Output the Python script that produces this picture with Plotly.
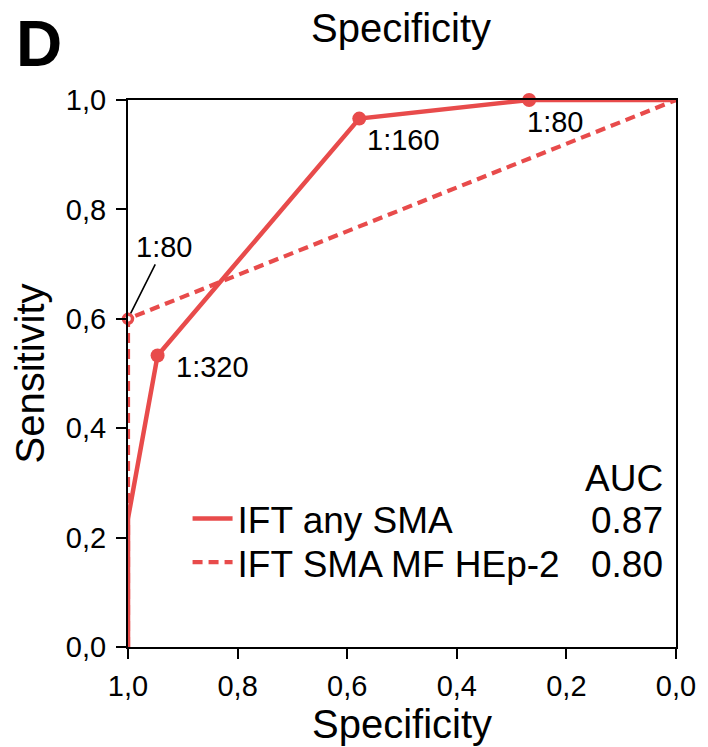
import plotly.graph_objects as go

RED = "#E84B4B"
FONT = "Liberation Sans, Arial, sans-serif"

# Data
any_sma_spec = [1.0, 1.0, 0.946, 0.578, 0.268, 0.0]
any_sma_sens = [0.0, 0.235, 0.533, 0.966, 1.0, 1.0]
cut_spec = [0.946, 0.578, 0.268]
cut_sens = [0.533, 0.966, 1.0]
cut_labels = ["1:320", "1:160", "1:80"]

mf_spec = [1.0, 1.0, 0.0]
mf_sens = [0.0, 0.6, 1.0]
mf_cut_spec = [1.0]
mf_cut_sens = [0.6]
mf_cut_labels = ["1:80"]

series_names = ["IFT any SMA", "IFT SMA MF HEp-2"]
auc_values = ["0.87", "0.80"]

tick_vals = [0.0, 0.2, 0.4, 0.6, 0.8, 1.0]
tick_text = ["0,0", "0,2", "0,4", "0,6", "0,8", "1,0"]

# plot area on screen: x 128..680, y 100..650 (page body margin removed)
PW, PH = 552, 550


def px(xs):
    return (xs - 128) / PW


def py(ys):
    return (650 - ys) / PH


fig = go.Figure()
fig.add_trace(go.Scatter(x=any_sma_spec, y=any_sma_sens, mode="lines",
                         line=dict(color=RED, width=4.5), name=series_names[0], cliponaxis=False,
                         legend="legend"))
fig.add_trace(go.Scatter(x=mf_spec, y=mf_sens, mode="lines",
                         line=dict(color=RED, width=4.2, dash="10px,6px"), name=series_names[1],
                         cliponaxis=False, legend="legend2"))
fig.add_trace(go.Scatter(x=cut_spec, y=cut_sens, mode="markers", showlegend=False,
                         marker=dict(color=RED, size=14), cliponaxis=False))
fig.add_trace(go.Scatter(x=mf_cut_spec, y=mf_cut_sens, mode="markers", showlegend=False,
                         marker=dict(color="white", size=9, line=dict(color=RED, width=3.5)),
                         cliponaxis=False))

ann_font = dict(family=FONT, size=29, color="black")
shifts = [(16, -12), (6, -21), (-4, -22)]
for xv, yv, lab, (dx, dy) in zip(cut_spec, cut_sens, cut_labels, shifts):
    fig.add_annotation(x=xv, y=yv, text=lab, showarrow=False, xanchor="left", yanchor="middle",
                       xshift=dx, yshift=dy, font=ann_font)
fig.add_annotation(x=mf_cut_spec[0], y=mf_cut_sens[0], text=mf_cut_labels[0], showarrow=True,
                   arrowhead=0, arrowwidth=1.6, arrowcolor="black", ax=36, ay=-72,
                   standoff=6, font=ann_font)

leg_font = dict(family=FONT, size=37, color="black")
fig.add_annotation(xref="paper", yref="paper", x=px(669), y=py(481), text="AUC",
                   showarrow=False, xanchor="right", yanchor="middle", font=leg_font)
for i, v in enumerate(auc_values):
    fig.add_annotation(xref="paper", yref="paper", x=px(669), y=py(523 + 44 * i),
                       text=v, showarrow=False, xanchor="right", yanchor="middle", font=leg_font)

fig.add_annotation(xref="paper", yref="paper", x=px(403), y=py(28), text="Specificity",
                   showarrow=False, xanchor="center", yanchor="middle",
                   font=dict(family=FONT, size=40, color="black"))
fig.add_annotation(xref="paper", yref="paper", x=px(13), y=py(44), text="<b>D</b>",
                   showarrow=False, xanchor="left", yanchor="middle",
                   font=dict(family=FONT, size=64, color="black"))

axis_common = dict(showgrid=False, zeroline=False, showline=True, linecolor="black", linewidth=2,
                   mirror=True, ticks="outside", ticklen=10, tickwidth=2, tickcolor="black",
                   tickfont=dict(family=FONT, size=29, color="black"),
                   tickvals=tick_vals, ticktext=tick_text)
fig.update_xaxes(range=[1.0, 0.0],
                 title=dict(text="Specificity", font=dict(family=FONT, size=40, color="black"), standoff=5),
                 ticklabelstandoff=2, **axis_common)
fig.update_yaxes(range=[0.0, 1.0],
                 title=dict(text="Sensitivity", font=dict(family=FONT, size=40, color="black"), standoff=9),
                 ticklabelstandoff=4, **axis_common)

leg_common = dict(xanchor="left", yanchor="top", bgcolor="rgba(0,0,0,0)", borderwidth=0,
                  font=leg_font, itemwidth=40)
fig.update_layout(width=708, height=747, margin=dict(l=128, r=28, t=100, b=97),
                  plot_bgcolor="white", paper_bgcolor="white",
                  font=dict(family=FONT, color="black"),
                  showlegend=True,
                  legend=dict(x=px(188), y=py(490), **leg_common),
                  legend2=dict(x=px(188), y=py(534), **leg_common))

fig.write_html("out.html", config={"displayModeBar": False},
               post_script="document.body.style.margin='0px';document.body.style.padding='0px';")
